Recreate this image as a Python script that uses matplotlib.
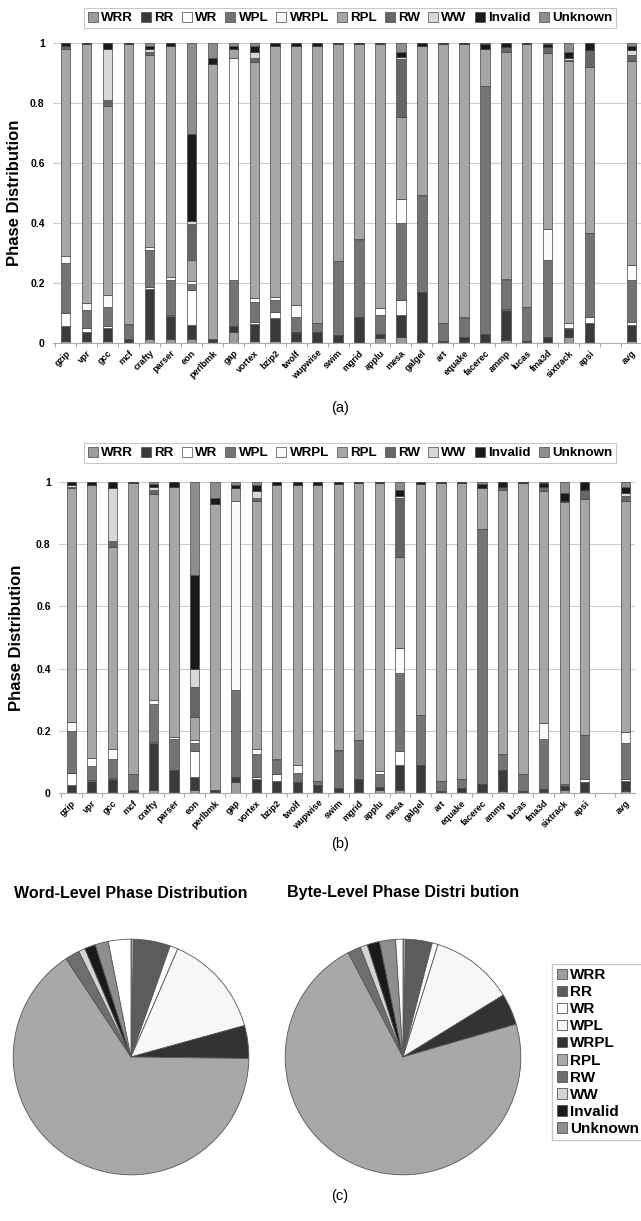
import numpy as np
import matplotlib
matplotlib.use("Agg")
import matplotlib.pyplot as plt
from matplotlib.patches import Patch

plt.rcParams["font.family"] = ["Liberation Sans", "DejaVu Sans"]
plt.rcParams["font.weight"] = "bold"

benchmarks = ["gzip", "vpr", "gcc", "mcf", "crafty", "parser", "eon", "perlbmk", "gap",
              "vortex", "bzip2", "twolf", "wupwise", "swim", "mgrid", "applu", "mesa",
              "galgel", "art", "equake", "facerec", "ammp", "lucas", "fma3d", "sixtrack",
              "apsi", "avg"]
phases = ["WRR", "RR", "WR", "WPL", "WRPL", "RPL", "RW", "WW", "Invalid", "Unknown"]

# (a) phase shares per benchmark
wrr_a = [.008, .008, .008, .002, .012, .012, .012, .002, .035, .008, .008, .005, .003, .002, .003, .015, .020, .003, .002, .003, .003, .010, .002, .003, .020, .002, .008]
rr_a = [.047, .030, .042, .010, .168, .078, .048, .010, .020, .055, .075, .030, .032, .025, .084, .015, .072, .167, .005, .017, .027, .100, .004, .017, .025, .063, .052]
wr_a = [.045, .012, .005, 0, .005, .002, .115, 0, 0, .007, .020, .002, 0, 0, 0, 0, .050, 0, 0, 0, 0, .003, 0, 0, 0, .020, .010]
wpl_a = [.165, .060, .065, .048, .125, .118, .020, 0, .155, .065, .040, .050, .030, .245, .256, .062, .257, .320, .058, .063, .825, .097, .114, .258, .005, .280, .140]
wrpl_a = [.025, .024, .040, .002, .010, .010, .010, 0, .740, .015, .010, .040, 0, .002, .002, .023, .080, .002, .002, .002, .002, .002, 0, .102, .015, .002, .050]
rpl_a = [.690, .861, .630, .935, .640, .770, .070, .918, .030, .785, .837, .863, .925, .721, .652, .882, .275, .498, .930, .912, .123, .758, .878, .585, .875, .553, .680]
rw_a = [.008, 0, .020, 0, .010, 0, .120, 0, 0, .015, 0, 0, 0, 0, 0, 0, .192, 0, 0, 0, 0, .015, 0, .020, .003, .055, .020]
ww_a = [.002, 0, .170, 0, .010, 0, .010, 0, 0, .020, 0, 0, 0, 0, 0, 0, .008, 0, 0, 0, 0, 0, 0, .003, .007, 0, .015]
inv_a = [.010, .005, .020, .003, .010, .010, .290, .020, .010, .020, .010, .010, .010, .005, .003, .003, .017, .010, .003, .003, .015, .015, .002, .010, .020, .025, .015]
unk_a = [0, 0, 0, 0, .010, 0, .305, .050, .010, .010, 0, 0, 0, 0, 0, 0, .029, 0, 0, 0, .005, 0, 0, .002, .030, 0, .010]

# (b)
wrr_b = [.003, .003, .003, .002, .010, .003, .010, .002, .035, .003, .003, .003, .003, .002, .002, .010, .010, .002, .002, .003, .003, .005, .002, .002, .010, .002, .005]
rr_b = [.022, .035, .042, .008, .150, .072, .040, .008, .015, .042, .037, .032, .022, .013, .043, .010, .080, .088, .003, .012, .027, .070, .003, .010, .012, .033, .035]
wr_b = [.040, .005, .003, 0, .005, 0, .085, 0, 0, .005, .020, 0, 0, 0, 0, 0, .045, 0, 0, 0, 0, 0, 0, 0, 0, .010, .005]
wpl_b = [.135, .045, .062, .050, .120, .100, .025, 0, .280, .075, .045, .030, .015, .120, .125, .040, .250, .160, .035, .030, .820, .050, .055, .163, .003, .140, .115]
wrpl_b = [.028, .025, .030, 0, .015, .005, .010, 0, .610, .015, .005, .025, 0, .002, .002, .012, .080, 0, 0, 0, 0, 0, 0, .050, .005, .002, .035]
rpl_b = [.752, .877, .650, .937, .660, .805, .075, .920, .040, .800, .880, .900, .950, .858, .825, .925, .295, .745, .957, .952, .130, .850, .937, .745, .905, .758, .745]
rw_b = [.005, 0, .020, 0, .015, 0, .095, 0, 0, .010, 0, 0, 0, 0, 0, 0, .190, 0, 0, 0, 0, .010, 0, .015, .003, .030, .015]
ww_b = [.005, 0, .170, 0, .010, 0, .060, 0, 0, .020, 0, 0, 0, 0, 0, 0, .005, 0, 0, 0, 0, 0, 0, 0, .002, 0, .010]
inv_b = [.010, .010, .020, .003, .010, .015, .300, .020, .010, .020, .010, .010, .010, .005, .003, .003, .020, .005, .003, .003, .015, .015, .003, .012, .025, .025, .020]
unk_b = [0, 0, 0, 0, .005, 0, .300, .050, .010, .010, 0, 0, 0, 0, 0, 0, .025, 0, 0, 0, .005, 0, 0, .003, .035, 0, .015]

# (c) overall shares in percent, last slice has no legend entry
word_share = [0.4, 5.0, 1.1, 14.2, 4.5, 65.5, 2.0, 0.9, 1.5, 1.8, 3.1]
byte_share = [0.4, 3.6, 0.8, 11.4, 4.3, 71.8, 1.8, 1.0, 1.7, 2.2, 1.0]

bar_colors = ["#9c9c9c", "#3a3a3a", "#ffffff", "#747474", "#fbfbfb", "#a6a6a6",
              "#666666", "#d8d8d8", "#1a1a1a", "#8e8e8e"]
pie_colors = ["#9c9c9c", "#5c5c5c", "#ffffff", "#f7f7f7", "#333333", "#a8a8a8",
              "#6e6e6e", "#d4d4d4", "#1a1a1a", "#8e8e8e", "#ffffff"]

W, H = 641, 1221
fig = plt.figure(figsize=(W / 100, H / 100), dpi=100)


def box(x0, y0, x1, y1):
    return [x0 / W, 1 - y1 / H, (x1 - x0) / W, (y1 - y0) / H]


xpos = np.r_[np.arange(26), 27]


def bar_panel(rect, series, legend_y, label_x):
    ax = fig.add_axes(rect)
    bottom = np.zeros(len(xpos))
    for name, vals, col in zip(phases, series, bar_colors):
        vals = np.array(vals)
        ax.bar(xpos, vals, 0.45, bottom=bottom, color=col, edgecolor="#454545",
               linewidth=0.5, label=name)
        bottom += vals
    ax.set_xlim(-0.6, 27.45)
    ax.set_ylim(0, 1)
    ax.set_yticks([0, 0.2, 0.4, 0.6, 0.8, 1.0])
    ax.set_yticklabels(["0", "0.2", "0.4", "0.6", "0.8", "1"], fontsize=7.5, fontweight="bold")
    ax.yaxis.grid(True, color="#cccccc", linewidth=0.8)
    ax.set_axisbelow(True)
    ax.set_xticks(xpos)
    ax.set_xticklabels(benchmarks, rotation=45, ha="right", rotation_mode="anchor",
                       fontsize=6.5, fontweight="bold")
    ax.set_xticks(np.arange(-0.5, 27.5, 1), minor=True)
    ax.tick_params(axis="x", which="major", length=0, pad=4)
    ax.tick_params(axis="x", which="minor", length=3, color="#999999")
    ax.tick_params(axis="y", length=0, pad=6)
    for s in ["top", "right", "left"]:
        ax.spines[s].set_visible(False)
    ax.spines["bottom"].set_color("#aaaaaa")
    ax.set_ylabel("Phase Distribution", fontsize=12, fontweight="bold")
    pos = ax.get_position()
    ax.yaxis.set_label_coords((label_x / W - pos.x0) / pos.width, 0.5)
    leg = ax.legend(loc="center", bbox_to_anchor=(350 / W, 1 - legend_y / H),
                    bbox_transform=fig.transFigure, ncol=10,
                    prop={"weight": "bold", "size": 9.6}, handlelength=0.75,
                    handleheight=0.75, handletextpad=0.25, columnspacing=0.6,
                    borderpad=0.3, fancybox=False, edgecolor="#bbbbbb")
    leg.get_frame().set_linewidth(0.8)
    return ax


bar_panel(box(53, 43, 641, 343), [wrr_a, rr_a, wr_a, wpl_a, wrpl_a, rpl_a, rw_a, ww_a, inv_a, unk_a], 18, 22)
fig.text(340 / W, 1 - 408 / H, "(a)", ha="center", va="center", fontsize=10.5, fontweight="normal")

bar_panel(box(59, 482, 635, 793), [wrr_b, rr_b, wr_b, wpl_b, wrpl_b, rpl_b, rw_b, ww_b, inv_b, unk_b], 453, 24)
fig.text(340 / W, 1 - 844 / H, "(b)", ha="center", va="center", fontsize=10.5, fontweight="normal")

r = 119
for cx, share, title in [(131, word_share, "Word-Level Phase Distribution"),
                         (403, byte_share, "Byte-Level Phase Distri bution")]:
    ax = fig.add_axes(box(cx - r, 1057 - r, cx + r, 1057 + r))
    wedges, _ = ax.pie(share, colors=pie_colors, startangle=90, counterclock=False,
                       wedgeprops={"edgecolor": "#555555", "linewidth": 0.6})
    ax.set_xlim(-1.01, 1.01)
    ax.set_ylim(-1.01, 1.01)
    ax.set_aspect("equal")
    fig.text(cx / W, 1 - 893 / H, title, ha="center", va="center", fontsize=11.5,
             fontweight="bold")

handles = [Patch(facecolor=c, edgecolor="#555555", linewidth=0.6) for c in pie_colors[:10]]
fig.legend(handles, phases, loc="center", bbox_to_anchor=(598 / W, 1 - 1052 / H),
           prop={"weight": "bold", "size": 11}, handlelength=0.7, handleheight=0.7,
           handletextpad=0.2, labelspacing=0.2, borderpad=0.3, fancybox=False,
           edgecolor="#bbbbbb")

fig.text(340 / W, 1 - 1196 / H, "(c)", ha="center", va="center", fontsize=10.5,
         fontweight="normal")

fig.savefig("out.png", dpi=100)
